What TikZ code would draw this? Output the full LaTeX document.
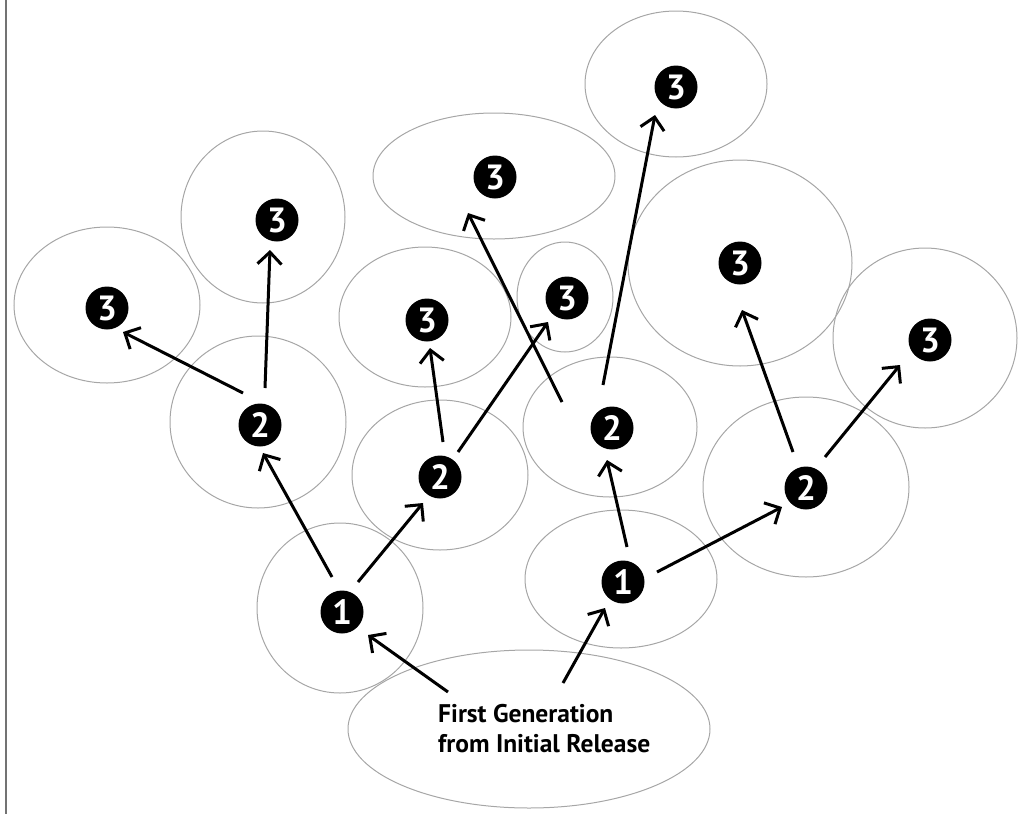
\documentclass[tikz,border=0pt]{standalone}
\usepackage{fontspec}
\setmainfont{PT Sans}
\usetikzlibrary{arrows.meta,calc}
\begin{document}
\begin{tikzpicture}[x=1pt,y=-1pt,
  region/.style={draw=black!35, line width=1pt},
  badge/.style={circle, fill=black, text=white, minimum size=43pt, inner sep=0pt,
    font=\bfseries\fontsize{35}{35}\selectfont},
  arr/.style={line width=3pt, -{Straight Barb[length=12pt,width=24pt]}},
  lbl/.style={align=left, inner sep=0pt, anchor=north west,
    font=\bfseries\fontsize{25.5}{30}\selectfont}
]
\useasboundingbox (0,0) rectangle (1020,814);
\draw[black!55, line width=1.8pt] (6,0) -- (6,814);
% regions
\draw[region] (107,305) ellipse [x radius=93pt, y radius=78pt];
\draw[region] (263,217) ellipse [x radius=82pt, y radius=86pt];
\draw[region] (258,422) ellipse [x radius=88pt, y radius=86pt];
\draw[region] (425,317) ellipse [x radius=86pt, y radius=70pt];
\draw[region] (440,475) ellipse [x radius=88pt, y radius=75pt];
\draw[region] (494,176) ellipse [x radius=121pt, y radius=63pt];
\draw[region] (565,297) ellipse [x radius=48pt, y radius=55pt];
\draw[region] (676,84) ellipse [x radius=91pt, y radius=73pt];
\draw[region] (610,427) ellipse [x radius=87pt, y radius=70pt];
\draw[region] (740,263) ellipse [x radius=112pt, y radius=103pt];
\draw[region] (925,338) ellipse [x radius=92pt, y radius=90pt];
\draw[region] (806,487) ellipse [x radius=103pt, y radius=90pt];
\draw[region] (340,608) ellipse [x radius=83pt, y radius=85pt];
\draw[region] (621,579) ellipse [x radius=96pt, y radius=69pt];
\draw[region] (529,729) ellipse [x radius=181pt, y radius=79pt];
% badges
\node[badge] (n3a) at (107,308) {3};
\node[badge] (n3b) at (277,220) {3};
\node[badge] (n3c) at (427,320) {3};
\node[badge] (n3d) at (567,298) {3};
\node[badge] (n3e) at (495,177) {3};
\node[badge] (n3f) at (676,87) {3};
\node[badge] (n3g) at (740,263) {3};
\node[badge] (n3h) at (930,340) {3};
\node[badge] (n2a) at (260,425) {2};
\node[badge] (n2b) at (440,477) {2};
\node[badge] (n2c) at (612,428) {2};
\node[badge] (n2d) at (806,488) {2};
\node[badge] (n1a) at (342,612) {1};
\node[badge] (n1b) at (623,582) {1};
% label
\node[lbl] (label) at (438,704) {First Generation\\from Initial Release};
\coordinate (la) at (448,692);
\coordinate (lb) at (563,683);
% arrows
\draw[arr] (la) -- ($(n1a)+(26,23)$);
\draw[arr] (lb) -- ($(n1b)+(-18,26)$);
\draw[arr] ($(n1a)+(-10,-35)$) -- ($(n2a)+(3,28)$);
\draw[arr] ($(n1a)+(16,-30)$) -- ($(n2b)+(-17,26)$);
\draw[arr] ($(n2a)+(-17,-32)$) -- ($(n3a)+(16,24)$);
\draw[arr] ($(n2a)+(5,-37)$) -- ($(n3b)+(-7,30)$);
\draw[arr] ($(n2b)+(3,-35)$) -- ($(n3c)+(3,28)$);
\draw[arr] ($(n2b)+(18,-25)$) -- ($(n3d)+(-19,24)$);
\draw[arr] ($(n2c)+(-50,-26)$) -- ($(n3e)+(-27,36)$);
\draw[arr] ($(n2c)+(-9,-43)$) -- ($(n3f)+(-21,28)$);
\draw[arr] ($(n1b)+(4,-35)$) -- ($(n2c)+(-5,32)$);
\draw[arr] ($(n1b)+(34,-10)$) -- ($(n2d)+(-24,19)$);
\draw[arr] ($(n2d)+(-13,-36)$) -- ($(n3g)+(2,47)$);
\draw[arr] ($(n2d)+(19,-31)$) -- ($(n3h)+(-30,25)$);
\end{tikzpicture}
\end{document}
